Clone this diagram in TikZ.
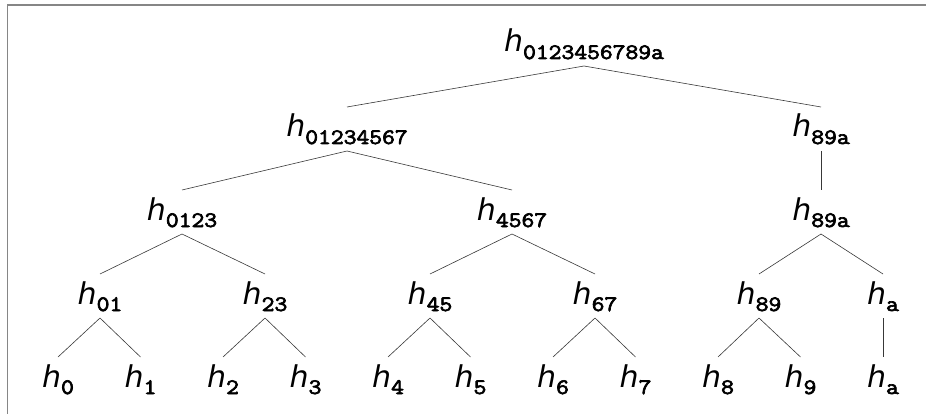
\documentclass[tikz,border=0pt]{standalone}
\usepackage{fontspec}
\newfontfamily\hfont{DejaVu Sans}
\newfontfamily\subfont[FakeBold=3]{Latin Modern Mono}
% hash label: oblique h with a bold, slightly widened monospace subscript
\newcommand{\hsub}[1]{{\fontsize{30}{34}\selectfont\hfont\itshape h}\raisebox{-7pt}{\scalebox{1.13}[1]{\fontsize{22}{26}\selectfont\subfont #1}}}
\begin{document}
\begin{tikzpicture}[x=1pt,y=-1pt,
  hnode/.style={anchor=base,inner sep=0pt},
  link/.style={draw=black!78,line width=0.6pt}]
\useasboundingbox (0,0) rectangle (926,414);
% frame (left and top edges)
\draw[gray!95,line width=1.6pt] (7.5,414) -- (7.5,5) -- (926,5);

% root
\node[hnode] (r) at (584,52) {\hsub{0123456789a}};
% level 1
\node[hnode] (a) at (347,137) {\hsub{01234567}};
\node[hnode] (b) at (821,137) {\hsub{89a}};
% level 2
\node[hnode] (a1) at (182,220) {\hsub{0123}};
\node[hnode] (a2) at (512,220) {\hsub{4567}};
\node[hnode] (b1) at (821,220) {\hsub{89a}};
% level 3
\node[hnode] (c0) at (100,304) {\hsub{01}};
\node[hnode] (c1) at (265,304) {\hsub{23}};
\node[hnode] (c2) at (430,304) {\hsub{45}};
\node[hnode] (c3) at (595,304) {\hsub{67}};
\node[hnode] (c4) at (759,304) {\hsub{89}};
\node[hnode] (c5) at (883,304) {\hsub{a}};
% leaves
\node[hnode] (l0) at (58,387) {\hsub{0}};
\node[hnode] (l1) at (140.5,387) {\hsub{1}};
\node[hnode] (l2) at (223,387) {\hsub{2}};
\node[hnode] (l3) at (305.5,387) {\hsub{3}};
\node[hnode] (l4) at (388,387) {\hsub{4}};
\node[hnode] (l5) at (470.5,387) {\hsub{5}};
\node[hnode] (l6) at (553,387) {\hsub{6}};
\node[hnode] (l7) at (635.5,387) {\hsub{7}};
\node[hnode] (l8) at (718,387) {\hsub{8}};
\node[hnode] (l9) at (800.5,387) {\hsub{9}};
\node[hnode] (la) at (883,387) {\hsub{a}};

% edges: from below a parent's label to above a child's label
\foreach \p/\c in {r/a, r/b, a/a1, a/a2, b/b1,
                   a1/c0, a1/c1, a2/c2, a2/c3, b1/c4, b1/c5,
                   c0/l0, c0/l1, c1/l2, c1/l3, c2/l4, c2/l5,
                   c3/l6, c3/l7, c4/l8, c4/l9, c5/la}
  \draw[link] ([yshift=-14pt]\p.base) -- ([yshift=30pt]\c.base);
\end{tikzpicture}
\end{document}
